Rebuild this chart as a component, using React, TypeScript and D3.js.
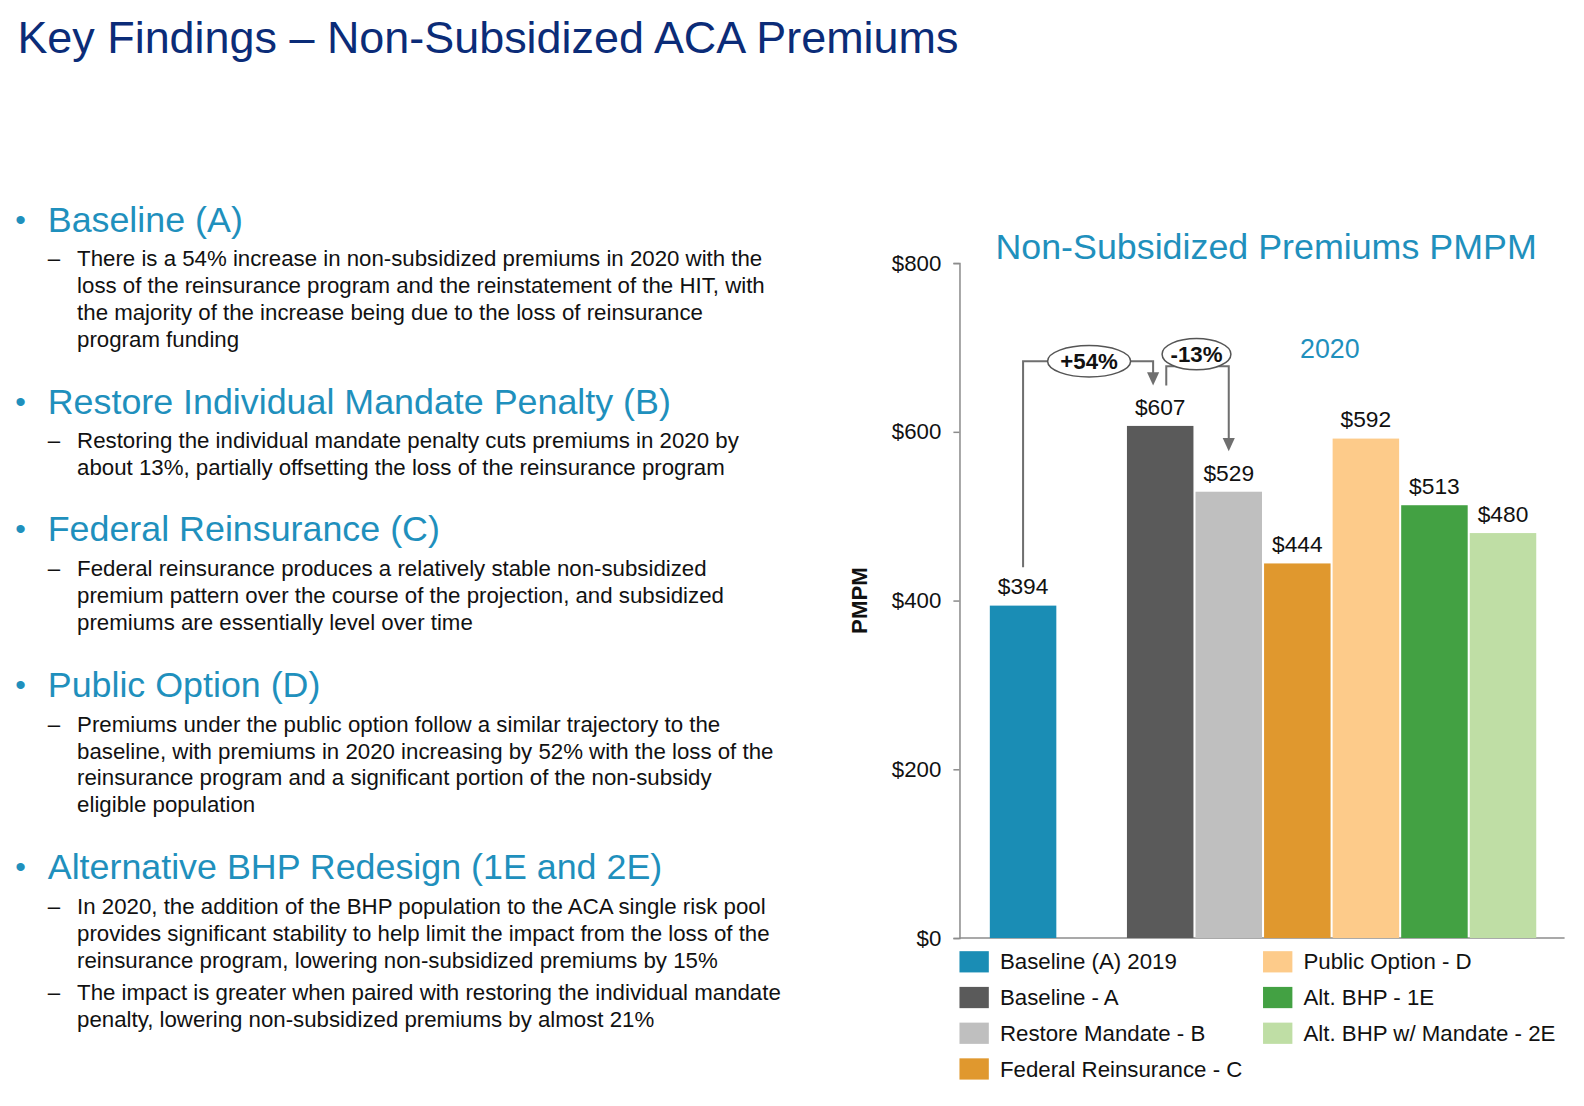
import React, { useRef, useEffect } from 'react';
import * as d3 from 'd3';

// chart data
const categories = [
  'Baseline (A) 2019',
  'Baseline - A',
  'Restore Mandate - B',
  'Federal Reinsurance - C',
  'Public Option - D',
  'Alt. BHP - 1E',
  'Alt. BHP w/ Mandate - 2E',
];
const premiums = [394, 607, 529, 444, 592, 513, 480];
const colors = ['#1a8db5', '#5a5a5a', '#bfbfbf', '#e0982e', '#fdcb8a', '#43a143', '#bfdea5'];
// slot order on the x axis: an empty slot separates 2019 from 2020
const slots = ['Baseline (A) 2019', 'gap', ...categories.slice(1)];
const yTicks = [0, 200, 400, 600, 800];
const changes = [
  { from: 0, to: 1, label: '+54%' },
  { from: 1, to: 2, label: '-13%' },
];

// slide text
const sections = [
  {
    head: 'Baseline (A)',
    items: [
      [
        'There is a 54% increase in non-subsidized premiums in 2020 with the',
        'loss of the reinsurance program and the reinstatement of the HIT, with',
        'the majority of the increase being due to the loss of reinsurance',
        'program funding',
      ],
    ],
  },
  {
    head: 'Restore Individual Mandate Penalty (B)',
    items: [
      [
        'Restoring the individual mandate penalty cuts premiums in 2020 by',
        'about 13%, partially offsetting the loss of the reinsurance program',
      ],
    ],
  },
  {
    head: 'Federal Reinsurance (C)',
    items: [
      [
        'Federal reinsurance produces a relatively stable non-subsidized',
        'premium pattern over the course of the projection, and subsidized',
        'premiums are essentially level over time',
      ],
    ],
  },
  {
    head: 'Public Option (D)',
    items: [
      [
        'Premiums under the public option follow a similar trajectory to the',
        'baseline, with premiums in 2020 increasing by 52% with the loss of the',
        'reinsurance program and a significant portion of the non-subsidy',
        'eligible population',
      ],
    ],
  },
  {
    head: 'Alternative BHP Redesign (1E and 2E)',
    items: [
      [
        'In 2020, the addition of the BHP population to the ACA single risk pool',
        'provides significant stability to help limit the impact from the loss of the',
        'reinsurance program, lowering non-subsidized premiums by 15%',
      ],
      [
        'The impact is greater when paired with restoring the individual mandate',
        'penalty, lowering non-subsidized premiums by almost 21%',
      ],
    ],
  },
];
const headBaselines = [229, 409, 535, 689, 869];

const FONT = '"Liberation Sans", Arial, sans-serif';
const NAVY = '#0b2c78';
const TEAL = '#1f90bd';
// layout is drawn in a slightly smaller design space and scaled up to the page
const VIEW_W = 1565;
const VIEW_H = 1093;

const App: React.FC = () => {
  const svgRef = useRef<SVGSVGElement | null>(null);

  useEffect(() => {
    if (!svgRef.current) return;
    const svg = d3.select(svgRef.current);
    svg.selectAll('*').remove();
    svg.attr('font-family', FONT);

    // Title
    svg.append('text')
      .attr('x', 17).attr('y', 52)
      .attr('font-size', 44.4).attr('fill', NAVY)
      .text('Key Findings \u2013 Non-Subsidized ACA Premiums');

    // Bullets
    sections.forEach((s, i) => {
      const base = headBaselines[i];
      svg.append('text')
        .attr('x', 15).attr('y', base - 2)
        .attr('font-size', 30).attr('fill', TEAL)
        .text('\u2022');
      svg.append('text')
        .attr('x', 47).attr('y', base)
        .attr('font-size', 35.4).attr('fill', TEAL)
        .text(s.head);
      let y = base + 34;
      s.items.forEach(lines => {
        svg.append('text')
          .attr('x', 47).attr('y', y)
          .attr('font-size', 22).attr('fill', '#111')
          .text('\u2013');
        lines.forEach((ln, k) => {
          svg.append('text')
            .attr('x', 76).attr('y', y + k * 26.6)
            .attr('font-size', 22).attr('fill', '#111')
            .text(ln);
        });
        y += lines.length * 26.6 + 5.5;
      });
    });

    // Chart
    const axisX = 948;
    const x = d3.scaleBand<string>()
      .domain(slots)
      .range([978, 1518])
      .paddingInner(0.03)
      .paddingOuter(0);
    const y = d3.scaleLinear().domain([0, 800]).range([927, 260]);

    // y axis
    const yAxis = svg.append('g')
      .attr('transform', `translate(${axisX},0)`)
      .call(
        d3.axisLeft(y)
          .tickValues(yTicks)
          .tickSize(6)
          .tickPadding(12)
          .tickFormat(d => `$${d}`)
      );
    yAxis.select('.domain').attr('stroke', '#8c8c8c').attr('stroke-width', 1.5);
    yAxis.selectAll('.tick line').attr('stroke', '#8c8c8c').attr('stroke-width', 1.5);
    yAxis.selectAll('.tick text')
      .attr('font-size', 22).attr('font-family', FONT).attr('fill', '#111');

    // x baseline
    svg.append('line')
      .attr('x1', axisX).attr('x2', 1546)
      .attr('y1', y(0)).attr('y2', y(0))
      .attr('stroke', '#8c8c8c').attr('stroke-width', 1.5);

    // y label
    svg.append('text')
      .attr('transform', `translate(857,${y(400)}) rotate(-90)`)
      .attr('text-anchor', 'middle')
      .attr('font-size', 22).attr('font-weight', 'bold').attr('fill', '#111')
      .text('PMPM');

    // bars
    svg.selectAll('.bar')
      .data(categories)
      .enter()
      .append('rect')
      .attr('class', 'bar')
      .attr('x', d => x(d) || 0)
      .attr('width', x.bandwidth())
      .attr('y', (d, i) => y(premiums[i]))
      .attr('height', (d, i) => y(0) - y(premiums[i]))
      .attr('fill', (d, i) => colors[i]);

    // value labels
    svg.selectAll('.value-label')
      .data(categories)
      .enter()
      .append('text')
      .attr('class', 'value-label')
      .attr('x', d => (x(d) || 0) + x.bandwidth() / 2)
      .attr('y', (d, i) => y(premiums[i]) - 11)
      .attr('text-anchor', 'middle')
      .attr('font-size', 22.5).attr('fill', '#111')
      .text((d, i) => `$${premiums[i]}`);

    // chart titles
    svg.append('text')
      .attr('x', 1251).attr('y', 256)
      .attr('text-anchor', 'middle')
      .attr('font-size', 35.4).attr('fill', TEAL)
      .text('Non-Subsidized Premiums PMPM');
    svg.append('text')
      .attr('x', 1314).attr('y', 354)
      .attr('text-anchor', 'middle')
      .attr('font-size', 26.5).attr('fill', TEAL)
      .text('2020');

    // change annotations
    const cx = (i: number) => (x(categories[i]) || 0) + x.bandwidth() / 2;
    const tip = (i: number) => y(premiums[i]) - 40;
    const lineColor = '#6f6f6f';
    const arrow = (px: number, py: number) => {
      svg.append('path')
        .attr('d', `M${px - 6},${py - 13} L${px + 6},${py - 13} L${px},${py} Z`)
        .attr('fill', lineColor);
    };
    const annot = svg.append('g').attr('fill', 'none').attr('stroke', lineColor).attr('stroke-width', 2);

    // +54%
    {
      const c = changes[0];
      const x0 = cx(c.from);
      const x1 = cx(c.to) - 7;
      const hy = 357;
      annot.append('path')
        .attr('d', `M${x0},${tip(c.from) + 2} V${hy} H${x1} V${tip(c.to) - 12}`);
      arrow(x1, tip(c.to));
      const ex = (x0 + x1) / 2 + 1;
      svg.append('ellipse')
        .attr('cx', ex).attr('cy', hy).attr('rx', 41).attr('ry', 15.5)
        .attr('fill', '#fff').attr('stroke', '#555').attr('stroke-width', 1.5);
      svg.append('text')
        .attr('x', ex).attr('y', hy + 8)
        .attr('text-anchor', 'middle')
        .attr('font-size', 22).attr('font-weight', 'bold').attr('fill', '#111')
        .text(c.label);
    }
    // -13%
    {
      const c = changes[1];
      const x0 = cx(c.from) + 6;
      const x1 = cx(c.to);
      const hy = 362;
      annot.append('path')
        .attr('d', `M${x0},${tip(c.from)} V${hy} H${x1} V${tip(c.to) - 12}`);
      arrow(x1, tip(c.to));
      const ex = (x0 + x1) / 2 - 1;
      svg.append('ellipse')
        .attr('cx', ex).attr('cy', 350).attr('rx', 34).attr('ry', 15.5)
        .attr('fill', '#fff').attr('stroke', '#555').attr('stroke-width', 1.5);
      svg.append('text')
        .attr('x', ex).attr('y', 350 + 8)
        .attr('text-anchor', 'middle')
        .attr('font-size', 22).attr('font-weight', 'bold').attr('fill', '#111')
        .text(c.label);
    }

    // legend
    categories.forEach((cat, n) => {
      const col = n < 4 ? 0 : 1;
      const row = n < 4 ? n : n - 4;
      const lx = col === 0 ? 948 : 1248;
      const ly = 950 + row * 35.3;
      svg.append('rect')
        .attr('x', lx).attr('y', ly - 10)
        .attr('width', 29).attr('height', 21)
        .attr('fill', colors[n]);
      svg.append('text')
        .attr('x', lx + 40).attr('y', ly + 8)
        .attr('font-size', 22).attr('fill', '#111')
        .text(cat);
    });
  }, []);

  return (
    <svg
      ref={svgRef}
      width={1584}
      height={1106}
      viewBox={`0 0 ${VIEW_W} ${VIEW_H}`}
      style={{ position: 'absolute', left: 0, top: 0, background: '#fff' }}
    />
  );
};

export default App;
